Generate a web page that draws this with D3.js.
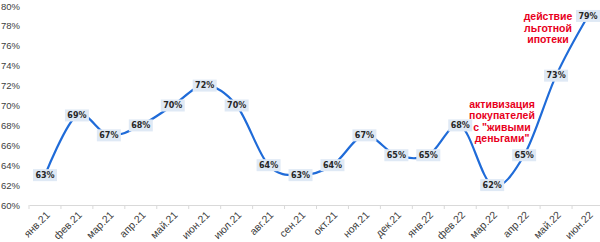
<!DOCTYPE html>
<html lang="ru">
<head>
<meta charset="UTF-8">
<title>chart</title>
<style>
    body{ margin:0; background:#fff; }
    svg{ display:block; }
    .axis text{ font-family: "Liberation Sans", Arial, sans-serif; font-size: 9.5px; fill:#404040; }
    .xaxis text{ font-size: 10.5px; }
    .axis path, .axis line{ stroke:#d9d9d9; }
    .lbl text{ font-family: "DejaVu Sans", sans-serif; font-weight:bold; font-size:8px; fill:#262626; }
    .note{ font-family: "Liberation Sans", Arial, sans-serif; font-weight:bold; font-size:10.5px; fill:#e8001c; }
</style>
<script src="https://cdn.jsdelivr.net/npm/d3@7"></script>
</head>
<body>
<script>
    const months = ["янв.21","фев.21","мар.21","апр.21","май.21","июн.21","июл.21","авг.21","сен.21","окт.21","ноя.21","дек.21",
                    "янв.22","фев.22","мар.22","апр.22","май.22","июн.22"];
    const values = [63,69,67,68,70,72,70,64,63,64,67,65,65,68,62,65,73,79];
    const yTicks = [60,62,64,66,68,70,72,74,76,78,80];
    const note1 = ["действие","льготной","ипотеки"];
    const note2 = ["активизация","покупателей","с \"живыми","деньгами\""];

    const width = 600, height = 242;
    const svg = d3.select("body").append("svg")
        .attr("width", width).attr("height", height);

    const x = d3.scaleBand().domain(months).range([29, 604]);
    const y = d3.scaleLinear().domain([60, 80]).range([205, 6]);
    const cx = d => x(d) + x.bandwidth()/2;

    // y axis (labels only)
    svg.append("g").attr("class","axis")
        .attr("transform","translate(23,0)")
        .call(d3.axisLeft(y).tickValues(yTicks).tickSize(0).tickFormat(d => d + "%"))
        .call(g => g.select(".domain").remove());

    // x axis
    svg.append("g").attr("class","axis xaxis")
        .attr("transform",`translate(0,${y(60)})`)
        .call(d3.axisBottom(x).tickSize(0).tickSizeOuter(0))
        .call(g => g.selectAll("text")
            .attr("text-anchor","end")
            .attr("y",0)
            .attr("dy","0.35em")
            .attr("transform","translate(3,8) rotate(-45)"));
    // tick marks between categories
    svg.append("g").selectAll("line")
        .data(months)
        .enter().append("line")
        .attr("x1", d => x(d)).attr("x2", d => x(d))
        .attr("y1", y(60)).attr("y2", y(60) + 4)
        .attr("stroke","#d9d9d9");

    // smoothed line
    const line = d3.line()
        .x((d,i) => cx(months[i]))
        .y(d => y(d))
        .curve(d3.curveCardinal.tension(0));
    svg.append("path")
        .datum(values)
        .attr("d", line)
        .attr("fill","none")
        .attr("stroke","#1f6bd8")
        .attr("stroke-width",2.2);

    // data labels
    const lbl = svg.append("g").attr("class","lbl")
        .selectAll("g").data(values).enter().append("g")
        .attr("transform",(d,i)=>`translate(${cx(months[i])},${y(d)})`);
    lbl.append("rect")
        .attr("x",-12).attr("y",-6).attr("width",24).attr("height",12)
        .attr("fill","#dfe9f5");
    lbl.append("text")
        .attr("text-anchor","middle").attr("dy","0.35em")
        .text(d => d + "%");

    // annotations
    svg.append("text").attr("class","note")
        .attr("text-anchor","middle")
        .selectAll("tspan").data(note1).enter().append("tspan")
        .attr("x",548).attr("y",(d,i)=>20 + i*11.5)
        .text(d=>d);
    svg.append("text").attr("class","note")
        .attr("text-anchor","middle")
        .selectAll("tspan").data(note2).enter().append("tspan")
        .attr("x",502).attr("y",(d,i)=>107.5 + i*11.5)
        .text(d=>d);
</script>
</body>
</html>
